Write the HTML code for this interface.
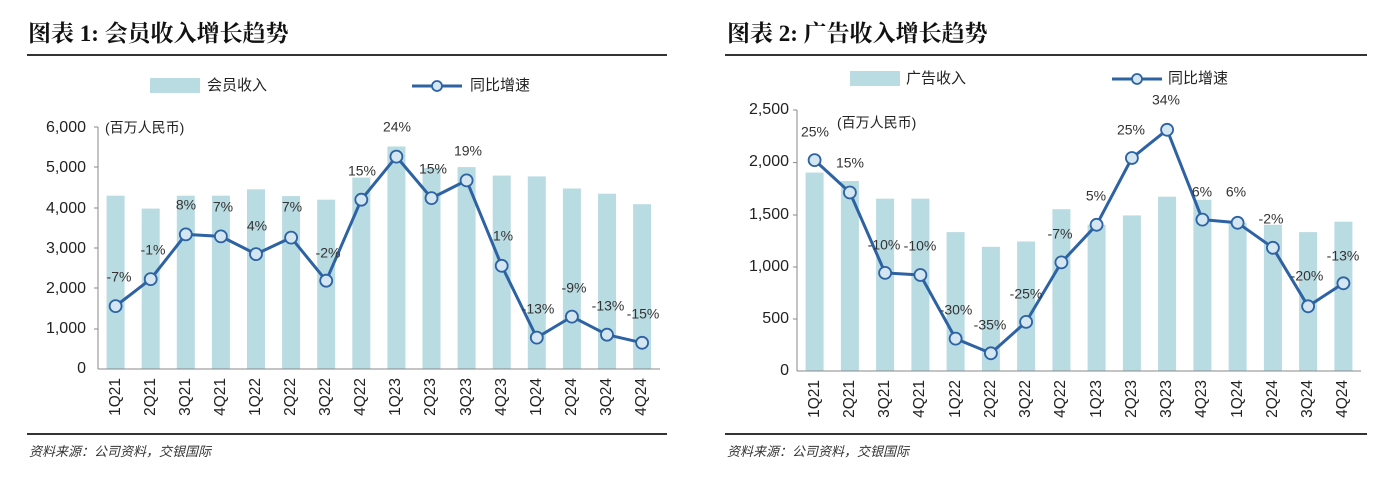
<!DOCTYPE html>
<html><head><meta charset="utf-8"><style>
body{margin:0;background:#fff;width:1397px;height:480px;overflow:hidden}
svg text{font-family:"Liberation Sans","Noto Sans CJK SC",sans-serif}
.t{font-family:"Liberation Serif","Noto Serif CJK SC",serif;font-weight:bold;font-size:23px;fill:#111}
.yl{font-size:16px;fill:#222;text-anchor:end;dominant-baseline:middle}
.xl{font-size:15.5px;fill:#222;text-anchor:end;dominant-baseline:middle}
.dl{font-size:14px;fill:#333;text-anchor:middle;dominant-baseline:middle}
.lg{font-size:15px;fill:#222;dominant-baseline:middle}
.src{font-size:13px;fill:#333;font-style:italic}
.bar{fill:#b9dbe2}
.ln{fill:none;stroke:#2d62a3;stroke-width:3;stroke-linejoin:round}
.mk{fill:#d3e6f1;stroke:#2d62a3;stroke-width:1.8}
</style></head><body>
<svg width="1397" height="480" xmlns="http://www.w3.org/2000/svg">
<!-- LEFT -->
<text class="t" x="28" y="41">图表 1: 会员收入增长趋势</text>
<line x1="27" y1="55" x2="667" y2="55" stroke="#333" stroke-width="2"/>
<rect x="150" y="78" width="50" height="15" class="bar"/>
<text class="lg" x="207" y="86">会员收入</text>
<line x1="412" y1="86" x2="462" y2="86" stroke="#2d62a3" stroke-width="3"/>
<circle cx="437" cy="86" r="5" class="mk"/>
<text class="lg" x="470" y="86">同比增速</text>
<text class="lg" x="105" y="129" style="font-size:14px">(百万人民币)</text>
<g>
<text class="yl" x="86" y="128">6,000</text><text class="yl" x="86" y="168">5,000</text><text class="yl" x="86" y="209">4,000</text>
<text class="yl" x="86" y="249">3,000</text><text class="yl" x="86" y="289">2,000</text><text class="yl" x="86" y="329">1,000</text><text class="yl" x="86" y="369">0</text>
</g>
<line x1="98" y1="127" x2="98" y2="369" stroke="#888"/>
<line x1="94" y1="127" x2="98" y2="127" stroke="#888"/><line x1="94" y1="167" x2="98" y2="167" stroke="#888"/><line x1="94" y1="208" x2="98" y2="208" stroke="#888"/><line x1="94" y1="248" x2="98" y2="248" stroke="#888"/><line x1="94" y1="288" x2="98" y2="288" stroke="#888"/><line x1="94" y1="329" x2="98" y2="329" stroke="#888"/>
<g class="bar">
<rect x="106.6" y="195.7" width="18" height="173.3"/><rect x="141.7" y="208.6" width="18" height="160.4"/><rect x="176.8" y="195.7" width="18" height="173.3"/><rect x="211.9" y="195.7" width="18" height="173.3"/>
<rect x="247" y="189.3" width="18" height="179.7"/><rect x="282.1" y="196.1" width="18" height="172.9"/><rect x="317.2" y="199.7" width="18" height="169.3"/><rect x="352.3" y="177.6" width="18" height="191.4"/>
<rect x="387.4" y="146.5" width="18" height="222.5"/><rect x="422.5" y="168" width="18" height="201"/><rect x="457.6" y="167.1" width="18" height="201.9"/><rect x="492.7" y="175.6" width="18" height="193.4"/>
<rect x="527.8" y="176.4" width="18" height="192.6"/><rect x="562.9" y="188.5" width="18" height="180.5"/><rect x="598" y="193.7" width="18" height="175.3"/><rect x="633.1" y="204.2" width="18" height="164.8"/>
</g>
<line x1="98" y1="369" x2="660" y2="369" stroke="#888"/>
<polyline class="ln" points="115.6,306.1 150.7,279.1 185.8,234.4 220.9,236.4 256,254.1 291.1,237.6 326.2,280.7 361.3,199.7 396.4,156.6 431.5,198.1 466.6,180.4 501.7,265.8 536.8,337.6 571.9,316.6 607,334.7 642.1,342.8"/>
<g class="mk">
<circle cx="115.6" cy="306.1" r="6"/><circle cx="150.7" cy="279.1" r="6"/><circle cx="185.8" cy="234.4" r="6"/><circle cx="220.9" cy="236.4" r="6"/><circle cx="256" cy="254.1" r="6"/><circle cx="291.1" cy="237.6" r="6"/><circle cx="326.2" cy="280.7" r="6"/><circle cx="361.3" cy="199.7" r="6"/><circle cx="396.4" cy="156.6" r="6"/><circle cx="431.5" cy="198.1" r="6"/><circle cx="466.6" cy="180.4" r="6"/><circle cx="501.7" cy="265.8" r="6"/><circle cx="536.8" cy="337.6" r="6"/><circle cx="571.9" cy="316.6" r="6"/><circle cx="607" cy="334.7" r="6"/><circle cx="642.1" cy="342.8" r="6"/>
</g>
<g>
<text class="dl" x="119" y="278">-7%</text><text class="dl" x="153" y="251">-1%</text><text class="dl" x="186" y="206">8%</text><text class="dl" x="223" y="208">7%</text>
<text class="dl" x="257" y="227">4%</text><text class="dl" x="292" y="208">7%</text><text class="dl" x="328" y="254">-2%</text><text class="dl" x="362" y="172">15%</text>
<text class="dl" x="397" y="128">24%</text><text class="dl" x="433" y="170">15%</text><text class="dl" x="468" y="152">19%</text><text class="dl" x="503" y="237">1%</text>
<text class="dl" x="538" y="310">-13%</text><text class="dl" x="574" y="289">-9%</text><text class="dl" x="608" y="307">-13%</text><text class="dl" x="643" y="315">-15%</text>
</g>
<g>
<text class="xl" transform="translate(116,378) rotate(-90)">1Q21</text><text class="xl" transform="translate(151,378) rotate(-90)">2Q21</text><text class="xl" transform="translate(186,378) rotate(-90)">3Q21</text><text class="xl" transform="translate(221,378) rotate(-90)">4Q21</text>
<text class="xl" transform="translate(256,378) rotate(-90)">1Q22</text><text class="xl" transform="translate(291,378) rotate(-90)">2Q22</text><text class="xl" transform="translate(326,378) rotate(-90)">3Q22</text><text class="xl" transform="translate(361,378) rotate(-90)">4Q22</text>
<text class="xl" transform="translate(396,378) rotate(-90)">1Q23</text><text class="xl" transform="translate(431,378) rotate(-90)">2Q23</text><text class="xl" transform="translate(467,378) rotate(-90)">3Q23</text><text class="xl" transform="translate(502,378) rotate(-90)">4Q23</text>
<text class="xl" transform="translate(537,378) rotate(-90)">1Q24</text><text class="xl" transform="translate(572,378) rotate(-90)">2Q24</text><text class="xl" transform="translate(607,378) rotate(-90)">3Q24</text><text class="xl" transform="translate(642,378) rotate(-90)">4Q24</text>
</g>
<line x1="27" y1="434" x2="667" y2="434" stroke="#333" stroke-width="2"/>
<text class="src" x="29" y="456">资料来源：公司资料，交银国际</text>

<!-- RIGHT -->
<text class="t" x="727" y="41">图表 2: 广告收入增长趋势</text>
<line x1="725" y1="55" x2="1367" y2="55" stroke="#333" stroke-width="2"/>
<rect x="850" y="71" width="50" height="15" class="bar"/>
<text class="lg" x="906" y="79">广告收入</text>
<line x1="1112" y1="79" x2="1162" y2="79" stroke="#2d62a3" stroke-width="3"/>
<circle cx="1137" cy="79" r="5" class="mk"/>
<text class="lg" x="1168" y="79">同比增速</text>
<text class="lg" x="837" y="124" style="font-size:14px">(百万人民币)</text>
<g>
<text class="yl" x="789" y="110">2,500</text><text class="yl" x="789" y="162">2,000</text><text class="yl" x="789" y="215">1,500</text>
<text class="yl" x="789" y="267">1,000</text><text class="yl" x="789" y="319">500</text><text class="yl" x="789" y="371">0</text>
</g>
<line x1="797" y1="110" x2="797" y2="371" stroke="#888"/>
<line x1="793" y1="110" x2="797" y2="110" stroke="#888"/><line x1="793" y1="162.6" x2="797" y2="162.6" stroke="#888"/><line x1="793" y1="215" x2="797" y2="215" stroke="#888"/><line x1="793" y1="267" x2="797" y2="267" stroke="#888"/><line x1="793" y1="319" x2="797" y2="319" stroke="#888"/>
<g class="bar">
<rect x="805.6" y="172.6" width="18" height="198.4"/><rect x="840.9" y="181" width="18" height="190"/><rect x="876.1" y="198.7" width="18" height="172.3"/><rect x="911.4" y="198.7" width="18" height="172.3"/>
<rect x="946.6" y="232.1" width="18" height="138.9"/><rect x="981.9" y="246.8" width="18" height="124.2"/><rect x="1017.1" y="241.5" width="18" height="129.5"/><rect x="1052.4" y="209.2" width="18" height="161.8"/>
<rect x="1087.6" y="224.8" width="18" height="146.2"/><rect x="1122.9" y="215.4" width="18" height="155.6"/><rect x="1158.1" y="196.7" width="18" height="174.3"/><rect x="1193.4" y="199.8" width="18" height="171.2"/>
<rect x="1228.6" y="222.8" width="18" height="148.2"/><rect x="1263.9" y="224.8" width="18" height="146.2"/><rect x="1299.1" y="232.1" width="18" height="138.9"/><rect x="1334.4" y="221.7" width="18" height="149.3"/>
</g>
<line x1="797" y1="371" x2="1361" y2="371" stroke="#888"/>
<polyline class="ln" points="814.6,160.1 849.9,192.5 885.1,272.9 920.4,275 955.6,338.6 990.9,353.3 1026.1,321.9 1061.4,262.4 1096.6,224.8 1131.9,158 1167.1,129.8 1202.4,219.6 1237.6,222.8 1272.9,247.8 1308.1,306.3 1343.4,283.3"/>
<g class="mk">
<circle cx="814.6" cy="160.1" r="6"/><circle cx="849.9" cy="192.5" r="6"/><circle cx="885.1" cy="272.9" r="6"/><circle cx="920.4" cy="275" r="6"/><circle cx="955.6" cy="338.6" r="6"/><circle cx="990.9" cy="353.3" r="6"/><circle cx="1026.1" cy="321.9" r="6"/><circle cx="1061.4" cy="262.4" r="6"/><circle cx="1096.6" cy="224.8" r="6"/><circle cx="1131.9" cy="158" r="6"/><circle cx="1167.1" cy="129.8" r="6"/><circle cx="1202.4" cy="219.6" r="6"/><circle cx="1237.6" cy="222.8" r="6"/><circle cx="1272.9" cy="247.8" r="6"/><circle cx="1308.1" cy="306.3" r="6"/><circle cx="1343.4" cy="283.3" r="6"/>
</g>
<g>
<text class="dl" x="815" y="133">25%</text><text class="dl" x="850" y="164">15%</text><text class="dl" x="884" y="246">-10%</text><text class="dl" x="920" y="247">-10%</text>
<text class="dl" x="956" y="311">-30%</text><text class="dl" x="990" y="326">-35%</text><text class="dl" x="1026" y="295">-25%</text><text class="dl" x="1060" y="235">-7%</text>
<text class="dl" x="1096" y="197">5%</text><text class="dl" x="1131" y="131">25%</text><text class="dl" x="1166" y="101">34%</text><text class="dl" x="1202" y="193">6%</text>
<text class="dl" x="1236" y="193">6%</text><text class="dl" x="1271" y="220">-2%</text><text class="dl" x="1307" y="277">-20%</text><text class="dl" x="1343" y="257">-13%</text>
</g>
<g>
<text class="xl" transform="translate(815,380) rotate(-90)">1Q21</text><text class="xl" transform="translate(850,380) rotate(-90)">2Q21</text><text class="xl" transform="translate(885,380) rotate(-90)">3Q21</text><text class="xl" transform="translate(920,380) rotate(-90)">4Q21</text>
<text class="xl" transform="translate(956,380) rotate(-90)">1Q22</text><text class="xl" transform="translate(991,380) rotate(-90)">2Q22</text><text class="xl" transform="translate(1026,380) rotate(-90)">3Q22</text><text class="xl" transform="translate(1061,380) rotate(-90)">4Q22</text>
<text class="xl" transform="translate(1097,380) rotate(-90)">1Q23</text><text class="xl" transform="translate(1132,380) rotate(-90)">2Q23</text><text class="xl" transform="translate(1167,380) rotate(-90)">3Q23</text><text class="xl" transform="translate(1202,380) rotate(-90)">4Q23</text>
<text class="xl" transform="translate(1238,380) rotate(-90)">1Q24</text><text class="xl" transform="translate(1273,380) rotate(-90)">2Q24</text><text class="xl" transform="translate(1308,380) rotate(-90)">3Q24</text><text class="xl" transform="translate(1343,380) rotate(-90)">4Q24</text>
</g>
<line x1="725" y1="434" x2="1367" y2="434" stroke="#333" stroke-width="2"/>
<text class="src" x="727" y="456">资料来源：公司资料，交银国际</text>
</svg>
</body></html>
